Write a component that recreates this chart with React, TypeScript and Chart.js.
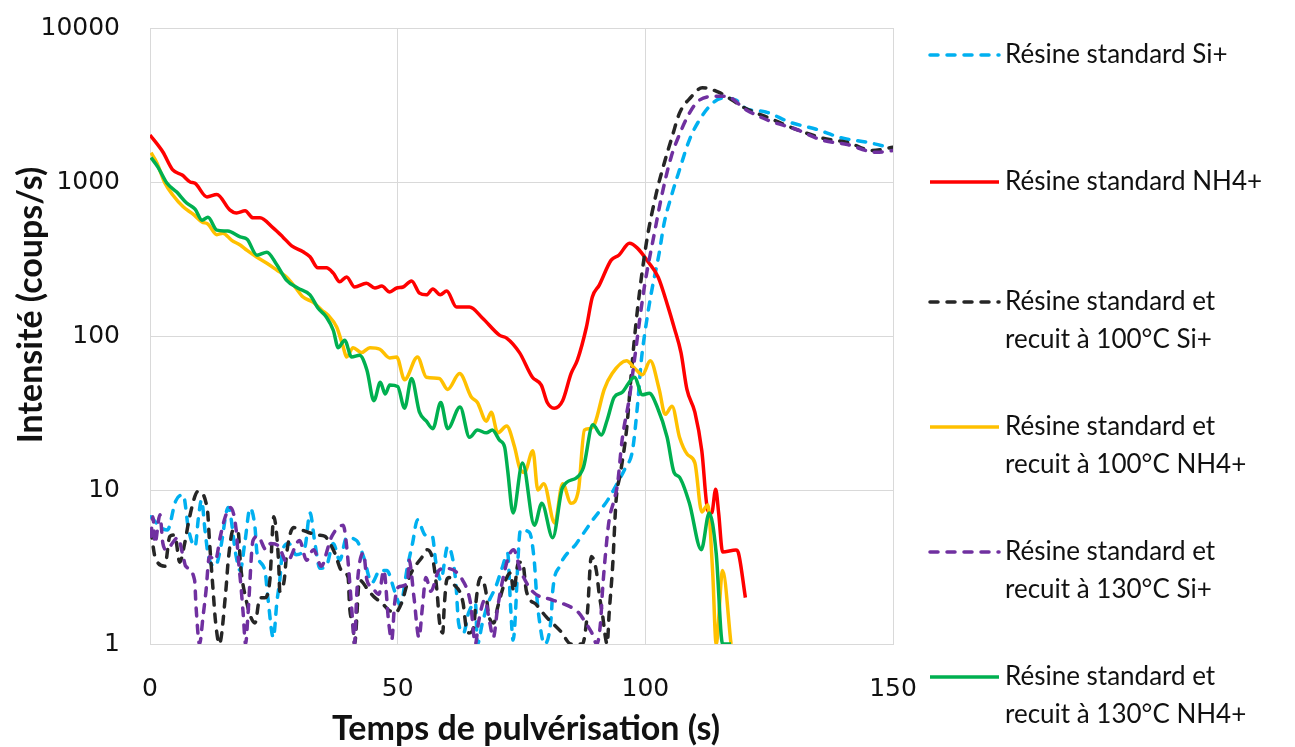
import React, { useEffect, useRef } from 'react';
import { Chart, registerables } from 'chart.js';

Chart.register(...registerables);

// ---- Axes ----
const xTicks = [0, 50, 100, 150];
const yTicks = [1, 10, 100, 1000, 10000];
const xTitle = 'Temps de pulvérisation (s)';
const yTitle = 'Intensité (coups/s)';

// ---- Series: Résine standard Si+ ----
const cyT = [0.2, 2.2, 3.5, 5.2, 6.7, 7.8, 9.1, 9.8, 10.4, 11.1, 11.8, 13.2, 14.2, 15.8, 17.4, 18.2, 19.2, 20.2, 21.2, 21.6, 23.2, 23.8, 24.9, 25.6, 26.2, 26.8, 28, 29.5, 31.3, 32.3, 33.3, 34.3, 35.6, 37, 38.3, 39.7, 41.7, 43.1, 44.8, 46.4, 47.8, 49.4, 50.5, 52, 53, 54, 55.6, 57, 57.7, 58.7, 60.1, 61.7, 62.3, 63.3, 64.3, 65.7, 66.1, 67.1, 68.3, 69.8, 71.2, 72.2, 72.8, 73.3, 74.8, 76.6, 77.6, 78, 78.6, 79.6, 81, 81.3, 82.7, 86.1, 89.4, 92.4, 94.7, 96, 97.4, 98.4, 99.2, 100, 101.2, 102.8, 103.8, 105.4, 106.9, 108.9, 110.9, 113.6, 115.6, 118.3, 120.3, 124.3, 129.1, 134.5, 139.7, 145.2, 150];
const cyV = [6.7, 5.7, 5.5, 8.5, 9.3, 5.5, 4.3, 6.7, 8.6, 5.5, 3.7, 3.2, 4.1, 7.7, 3.7, 3.0, 4.7, 7.6, 5.7, 3.9, 3.0, 2.0, 1.1, 1.85, 2.6, 4.1, 4.5, 3.8, 4.3, 7.1, 4.5, 3.1, 3.2, 4.5, 3.5, 4.9, 4.7, 3.7, 2.5, 3.0, 3.0, 2.2, 1.8, 3.2, 4.5, 6.4, 5.1, 5, 3.4, 2.6, 4.3, 2.6, 1.37, 1.18, 1.59, 1.85, 1.0, 1.37, 1.85, 2.35, 3.2, 3.9, 1.74, 1.06, 5.5, 5.3, 3.4, 2.2, 1.43, 1.0, 1.5, 2.2, 3.2, 4.5, 6.4, 8.6, 11.6, 14, 18, 35, 70, 110, 190, 346, 540, 840, 1200, 1880, 2520, 3250, 3500, 3400, 3000, 2850, 2450, 2200, 1930, 1800, 1650];

// ---- Series: Résine standard NH4+ ----
const redT = [0, 2.6, 4.6, 6.5, 8.1, 9.1, 11.5, 13.5, 16.1, 17.5, 19.2, 20.8, 22.2, 24.8, 26.8, 28.6, 30.9, 32.3, 33.9, 35.6, 37, 38.3, 39.7, 41.3, 43.7, 45.4, 46.8, 48.4, 49.8, 51.1, 52.8, 54.4, 55.8, 57.1, 58.6, 59.9, 61.9, 64.5, 67.1, 70.6, 72, 74.6, 77.2, 79, 80.2, 81.6, 83.3, 85, 86.3, 88.1, 89.3, 90.7, 93.1, 94.7, 96.8, 98.4, 100.5, 102.6, 104.6, 105.8, 107.2, 108.4, 110, 111.4, 112.6, 113.4, 114.2, 114.8, 115.6, 118.3, 118.8, 120.2];
const redV = [2020, 1566, 1197, 1110, 1000, 980, 800, 830, 660, 630, 650, 585, 585, 505, 440, 385, 352, 327, 277, 277, 256, 225, 242, 208, 220, 205, 211, 193, 205, 208, 228, 190, 185, 202, 185, 196, 154, 154, 131, 101, 97, 78, 54, 48, 37, 34, 38, 57, 70, 114, 179, 214, 311, 336, 400, 372, 305, 241, 154, 114, 78, 45, 32, 18, 7.4, 7.1, 10.1, 7.1, 3.96, 4.08, 3.9, 2.0];

// ---- Series: Résine standard et recuit à 100°C Si+ ----
const bkT = [0.2, 1, 3, 4, 5, 6, 7, 8, 9.7, 11.6, 12, 12.8, 13.2, 14, 15.3, 15.8, 16.8, 17.8, 18.3, 19.3, 21.2, 22.2, 23.2, 24.2, 25, 25.6, 26, 26.2, 27.1, 27.6, 29, 30, 32, 34, 35.3, 37.3, 38.7, 40, 40.3, 41, 41.3, 42.3, 44.2, 45.4, 46.8, 48.2, 49.5, 50.8, 52.3, 55, 56, 57.2, 58, 58.4, 59.1, 59.4, 59.9, 60.4, 61.1, 63.2, 63.8, 64.4, 65.4, 65.7, 66.7, 67.8, 68.3, 69.4, 70.2, 71.8, 72.8, 73.4, 74.4, 75.2, 76, 78, 80, 83, 85, 87.3, 88.3, 89.1, 90.1, 90.7, 91.3, 92.3, 92.7, 93.4, 94.1, 95, 96.2, 97.4, 98.4, 100.2, 102.2, 103.8, 105.4, 106.9, 109.2, 111.5, 115, 120.3, 125, 130.4, 135.7, 141, 145.8, 150];
const bkV = [5.5, 3.7, 3.2, 5, 5.1, 3.4, 4.5, 6.7, 9.8, 7.4, 4.7, 2.1, 1.43, 1.0, 2.2, 3.5, 5.5, 5.3, 3.2, 2.0, 1.37, 2.0, 2.0, 2.6, 6.7, 5, 3.2, 2.2, 2.6, 3.9, 5.7, 5.6, 5.3, 5.1, 5.0, 3.9, 3.0, 2.7, 1.74, 1.3, 1.0, 2.6, 2.2, 2.0, 1.85, 1.66, 1.6, 1.85, 2.7, 3.7, 4.1, 3.4, 2.1, 1.43, 1.18, 1.74, 2.6, 2.7, 2.5, 1.85, 1.3, 1.18, 1.3, 1.74, 2.7, 2.2, 1.59, 1.37, 1.74, 2.6, 2.9, 2.2, 3.4, 3.4, 2.2, 1.8, 1.5, 1.2, 1.0, 1.0, 1.59, 3.7, 3.0, 2.1, 1.59, 1.0, 1.59, 3.2, 8.6, 13, 24.5, 70, 147, 400, 840, 1320, 1960, 2800, 3550, 4100, 3800, 3000, 2600, 2200, 1930, 1800, 1600, 1680];

// ---- Series: Résine standard et recuit à 100°C NH4+ ----
const yelT = [0.2, 1.4, 3, 4.6, 6.7, 8.7, 10.5, 11.7, 13.5, 14.7, 16.5, 18.2, 19.6, 21.6, 23.6, 25.6, 27.6, 29.3, 30.9, 32.9, 34.7, 35.9, 37.7, 39, 39.7, 41, 42.7, 44.4, 46.4, 48.4, 49.8, 51.4, 54, 55.8, 58.4, 60.1, 62.5, 64.9, 66.1, 67.9, 68.9, 70.2, 72, 73.6, 74.6, 75.6, 77.3, 78.3, 79.5, 81.7, 83.3, 85, 86.5, 87.7, 88.7, 89.8, 91.7, 93.3, 96.2, 97.8, 99.4, 101, 102.8, 104, 105.4, 106.9, 108.5, 110, 111.4, 112.6, 113.6, 114.3, 115.6, 117.3];
const yelV = [1550, 1330, 985, 824, 690, 618, 550, 533, 455, 465, 418, 390, 360, 325, 297, 268, 241, 208, 179, 166, 147, 137, 114, 85, 73, 84, 78, 84, 82, 72, 73, 52, 73, 54, 53, 45, 57, 40, 37, 28, 32, 23.5, 26, 19, 14, 13, 18, 10, 11, 6.1, 11, 8.2, 10, 24.5, 25, 27, 45, 57, 69, 62, 56, 69, 45, 31, 35, 22, 17, 15, 7.2, 8, 2.9, 1, 3, 1];

// ---- Series: Résine standard et recuit à 130°C Si+ ----
const puT = [0.2, 0.6, 1, 2, 2.6, 3.3, 5.6, 6.7, 7.2, 9, 9.3, 10, 10.7, 11.3, 12, 13.2, 14.2, 15.2, 16.2, 17.4, 17.8, 18.4, 18.8, 19.3, 19.8, 20.8, 21.8, 23.4, 24.4, 26, 27.6, 30.2, 31.6, 33, 34.6, 36, 36.7, 39, 39.7, 41, 41.3, 41.7, 42.1, 43.1, 43.8, 44.8, 46.2, 47.2, 48.2, 48.8, 49.4, 50.2, 52, 52.3, 53.3, 54.3, 55, 55.7, 56.7, 58.3, 59.7, 63.1, 64.7, 65.7, 66.3, 67.6, 68.6, 69.3, 70.2, 71.2, 72.4, 73.4, 74.8, 77.2, 81.3, 83, 86.6, 87.6, 89.2, 90.2, 91, 91.3, 92.1, 92.7, 93.7, 94.4, 95.3, 96.8, 97.8, 99.8, 101.8, 103.4, 105.2, 106.9, 108.9, 110.9, 114.3, 116.3, 120.3, 125, 130.4, 135.5, 140.8, 146.6, 150];
const puV = [5, 6.7, 4.5, 6.9, 4.5, 4.1, 4.9, 3.7, 3.2, 2.6, 1.74, 1.0, 1.5, 2.2, 3.7, 3.5, 5, 6.7, 7.7, 5.5, 3.7, 2.3, 1.59, 1.0, 1.59, 4.7, 5, 4.1, 4.5, 4.3, 3.4, 4.7, 3.5, 4.1, 3.2, 4.3, 5, 5.9, 4.3, 1.3, 1.0, 2, 3, 3.9, 2.6, 2.35, 2.1, 3, 1.37, 1.06, 1.85, 2.35, 2.5, 3.5, 2, 1.1, 1.74, 2.7, 2.2, 3, 3.1, 2.6, 1.85, 1.0, 1.37, 1.93, 1.37, 1.1, 1.74, 2.6, 3.7, 4.1, 3.0, 2.2, 1.93, 1.85, 1.59, 1.43, 1.18, 1.0, 1.43, 2.1, 4.3, 6.4, 8.6, 11, 21, 40, 70, 208, 460, 840, 1450, 2040, 2800, 3400, 3600, 3600, 2950, 2500, 2200, 1880, 1750, 1560, 1600];

// ---- Series: Résine standard et recuit à 130°C NH4+ ----
const grnT = [0.2, 1.6, 3.4, 5.4, 7.4, 9.1, 10.5, 11.7, 13.5, 15.7, 18.2, 19.6, 21.6, 23.6, 25.6, 27.6, 29.8, 32.3, 33.9, 35.6, 37, 38, 39.3, 40.7, 42.3, 43.8, 45.2, 46.5, 47.5, 48.4, 50, 51.4, 52.8, 54.4, 55.8, 57.1, 58.7, 60.1, 62.6, 64.5, 66.1, 67.9, 69.1, 70.6, 71.6, 72.2, 73.3, 75.2, 77.6, 79.1, 81.3, 83.3, 86.1, 87.5, 89.4, 91.1, 92.3, 93.7, 95.3, 97.8, 99.4, 100.8, 102.4, 104.4, 105.8, 106.9, 108.9, 111.3, 112.9, 114.3, 115.6, 117.3];
const grnV = [1440, 1250, 985, 860, 730, 666, 565, 590, 487, 480, 440, 425, 335, 350, 290, 230, 205, 185, 152, 133, 109, 84, 94, 73, 75, 60, 38, 50, 42, 48, 47, 34, 53, 32, 28, 25, 37, 25, 34.6, 22, 24.5, 23.5, 24.5, 21, 19, 13.5, 7.1, 15, 5.9, 8.2, 4.9, 10.4, 12, 14, 26.5, 22.8, 28.5, 40, 43, 54, 41.5, 42.5, 34.6, 22, 13, 12.1, 8.2, 4.1, 7.1, 3.9, 1, 1];

const seriesNames = [
  ['Résine standard Si+'],
  ['Résine standard NH4+'],
  ['Résine standard et', 'recuit à 100°C Si+'],
  ['Résine standard et', 'recuit à 100°C NH4+'],
  ['Résine standard et', 'recuit à 130°C Si+'],
  ['Résine standard et', 'recuit à 130°C NH4+'],
];
const seriesT = [cyT, redT, bkT, yelT, puT, grnT];
const seriesV = [cyV, redV, bkV, yelV, puV, grnV];
const seriesColors = ['#00B0F0', '#FF0000', '#262626', '#FFC000', '#7030A0', '#00B050'];
const seriesDashed = [true, false, true, false, true, false];

const TEXT = '#111111';
const GRID = '#d9d9d9';
const DASH = [8, 9];
const LEGEND_Y = [55, 182, 302, 427, 552, 677];

const overlayPlugin = {
  id: 'overlay',
  afterDraw(chart: any) {
    const ctx = chart.ctx as CanvasRenderingContext2D;
    ctx.save();
    ctx.fillStyle = TEXT;
    ctx.textBaseline = 'middle';
    ctx.textAlign = 'center';
    ctx.font = 'bold 34px Lato';
    ctx.fillText(xTitle, 526, 729);
    ctx.save();
    ctx.translate(31, 305);
    ctx.rotate(-Math.PI / 2);
    ctx.fillText(yTitle, 0, 0);
    ctx.restore();

    ctx.textAlign = 'left';
    ctx.font = '26px Lato';
    chart.data.datasets.forEach((ds: any, i: number) => {
      const y = LEGEND_Y[i];
      ctx.save();
      ctx.strokeStyle = ds.borderColor;
      ctx.lineWidth = 3.5;
      ctx.lineCap = seriesDashed[i] ? 'round' : 'butt';
      ctx.setLineDash(seriesDashed[i] ? DASH : []);
      ctx.beginPath();
      ctx.moveTo(930, y);
      ctx.lineTo(999, y);
      ctx.stroke();
      ctx.restore();
      seriesNames[i].forEach((t, j) => {
        ctx.fillText(t, 1005, y + j * 38);
      });
    });
    ctx.restore();
  },
};

export default function App() {
  const ref = useRef<HTMLCanvasElement | null>(null);

  useEffect(() => {
    if (!ref.current) return;
    const datasets = seriesT.map((ts, i) => ({
      label: seriesNames[i].join(' '),
      data: ts.map((t, k) => ({ x: t, y: seriesV[i][k] })),
      borderColor: seriesColors[i],
      backgroundColor: seriesColors[i],
      borderWidth: 3.5,
      borderDash: seriesDashed[i] ? DASH : [],
      borderCapStyle: seriesDashed[i] ? 'round' : 'butt',
      borderJoinStyle: 'round',
      pointRadius: 0,
      pointHoverRadius: 0,
      fill: false,
      cubicInterpolationMode: 'monotone',
      order: seriesT.length - i,
    }));

    const chart = new Chart(ref.current, {
      type: 'line',
      data: { datasets: datasets as any },
      options: {
        animation: false,
        responsive: false,
        maintainAspectRatio: false,
        parsing: false as any,
        layout: { padding: { left: 0, top: 28, right: 402, bottom: 0 } },
        plugins: {
          legend: { display: false },
          tooltip: { enabled: false },
          title: { display: false },
        },
        scales: {
          x: {
            type: 'linear',
            min: 0,
            max: 150,
            afterBuildTicks: (s: any) => {
              s.ticks = xTicks.map((v) => ({ value: v }));
            },
            afterFit: (s: any) => {
              s.height = 103;
              s.paddingLeft = 0;
              s.paddingRight = 0;
            },
            grid: { color: GRID, lineWidth: 1, drawTicks: false },
            border: { display: true, color: GRID, width: 1 },
            ticks: {
              padding: 30,
              color: TEXT,
              font: { family: 'DejaVu Sans', size: 25 },
              maxRotation: 0,
              callback: (v: any) => String(v),
            },
          },
          y: {
            type: 'logarithmic',
            min: 1,
            max: 10000,
            afterBuildTicks: (s: any) => {
              s.ticks = yTicks.map((v) => ({ value: v }));
            },
            afterFit: (s: any) => {
              s.width = 150;
              s.paddingTop = 0;
              s.paddingBottom = 0;
            },
            grid: { color: GRID, lineWidth: 1, drawTicks: false },
            border: { display: true, color: GRID, width: 1 },
            ticks: {
              padding: 30,
              color: TEXT,
              font: { family: 'DejaVu Sans', size: 25 },
              callback: (v: any) => String(v),
            },
          },
        },
      },
      plugins: [overlayPlugin],
    });
    return () => chart.destroy();
  }, []);

  return (
    <div style={{ position: 'absolute', left: 0, top: 0, width: 1295, height: 747, background: '#ffffff' }}>
      <canvas ref={ref} width={1295} height={747} style={{ width: 1295, height: 747, display: 'block' }} />
    </div>
  );
}
